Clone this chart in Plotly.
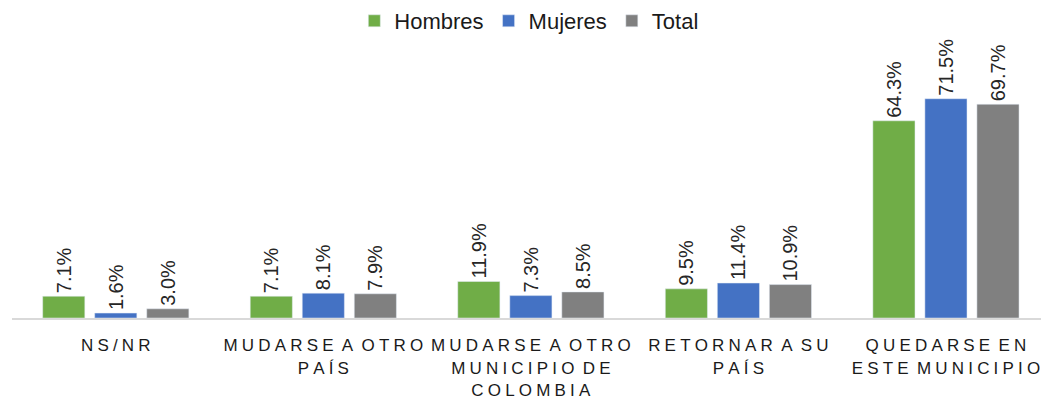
import plotly.graph_objects as go

categories = ["NS/NR", "MUDARSE A OTRO PAÍS", "MUDARSE A OTRO MUNICIPIO DE COLOMBIA",
              "RETORNAR A SU PAÍS", "QUEDARSE EN ESTE MUNICIPIO"]
category_lines = [["NS/NR"], ["MUDARSE A OTRO", "PAÍS"],
                  ["MUDARSE A OTRO", "MUNICIPIO DE", "COLOMBIA"],
                  ["RETORNAR A SU", "PAÍS"], ["QUEDARSE EN", "ESTE MUNICIPIO"]]
hombres = [7.1, 7.1, 11.9, 9.5, 64.3]
mujeres = [1.6, 8.1, 7.3, 11.4, 71.5]
total = [3.0, 7.9, 8.5, 10.9, 69.7]

series = [("Hombres", hombres, "#70AD47"), ("Mujeres", mujeres, "#4472C4"), ("Total", total, "#808080")]

FONT = "Liberation Sans, Arial, sans-serif"
GAP = '<span style="font-size:15px">\u00a0</span>'


def spaced(line):
    words = line.split(" ")
    return (GAP * 2).join(GAP.join(list(w)) for w in words)


ticktext = ["<br>".join(spaced(l) for l in lines) for lines in category_lines]
xpos = list(range(len(categories)))

fig = go.Figure()
for name, vals, color in series:
    fig.add_trace(go.Bar(
        x=xpos, y=vals, name=name, marker_color=color,
        text=[f"{v:.1f}%" for v in vals], textposition="outside", textangle=-90,
        constraintext="none",
        textfont=dict(family=FONT, size=20, color="#262626"), cliponaxis=False,
    ))

fig.update_layout(
    width=1041, height=405,
    margin=dict(l=12, r=0, t=40, b=87),
    paper_bgcolor="white", plot_bgcolor="white",
    barmode="group", bargap=0.248, bargroupgap=0.19,
    font=dict(family=FONT, color="#262626"),
    showlegend=True,
    legend=dict(orientation="h", xref="container", yref="container", x=0.508, xanchor="center",
                y=1.0, yanchor="top", font=dict(family=FONT, size=22, color="#1a1a1a"),
                itemwidth=30, traceorder="normal"),
    xaxis=dict(range=[-0.5, 4.458], tickvals=xpos, ticktext=ticktext, showgrid=False,
               showline=True, linecolor="#d9d9d9", linewidth=2, ticks="", tickangle=0,
               automargin=False, ticklabelstandoff=11, ticklabeloverflow="allow",
               tickfont=dict(family=FONT, size=17, color="#1a1a1a"), zeroline=False),
    yaxis=dict(range=[0, 90], visible=False, showgrid=False, zeroline=False),
)

fig.write_html("out.html", config={"displayModeBar": False},
               post_script="document.body.style.margin='0';")
